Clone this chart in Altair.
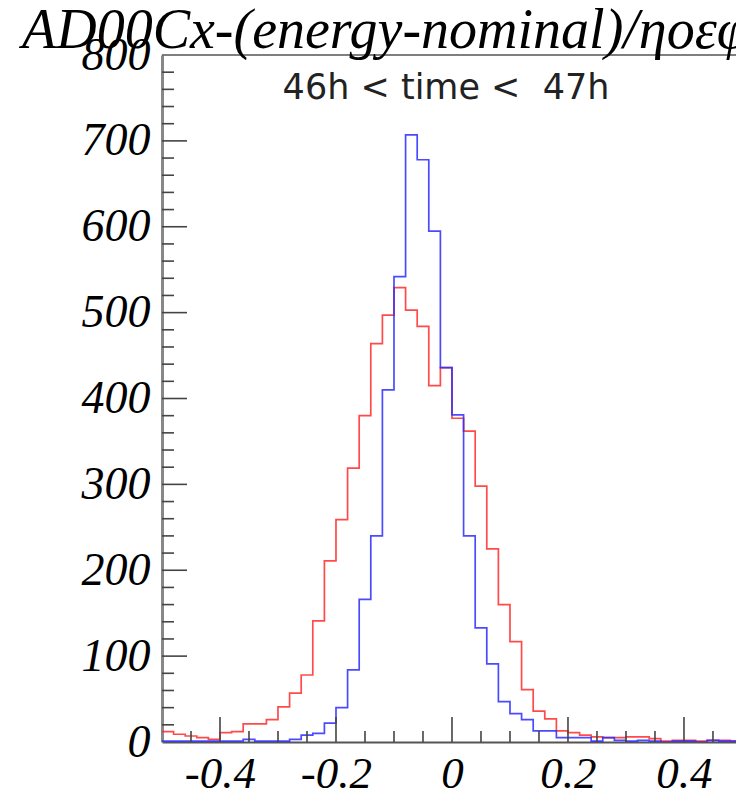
import altair as alt
import pandas as pd

# Histogram binning: 50 bins of width 0.02 over [-0.5, 0.5]
bin_start = -0.5
bin_width = 0.02
n_bins = 50

# Bin contents for the two channels
red_counts = [12, 9, 7, 5, 3, 11, 12, 21, 21, 26,
              41, 57, 78, 141, 211, 259, 319, 380, 464, 497,
              529, 503, 484, 415, 436, 377, 362, 298, 225, 160,
              117, 61, 36, 27, 13, 11, 8, 6, 5, 5,
              6, 6, 4, 1, 2, 2, 1, 2, 2, 1]
blue_counts = [1, 1, 1, 1, 1, 1, 1, 3, 1, 1,
               1, 3, 8, 10, 22, 40, 84, 166, 240, 410,
               542, 707, 678, 595, 436, 381, 240, 133, 91, 47,
               33, 26, 13, 13, 5, 5, 5, 1, 5, 2,
               1, 2, 1, 0, 1, 1, 0, 2, 1, 1]

# Axis ticks
x_major = [-0.4, -0.2, 0.0, 0.2, 0.4]
x_minor = [-0.45, -0.35, -0.3, -0.25, -0.15, -0.1, -0.05,
           0.05, 0.1, 0.15, 0.25, 0.3, 0.35, 0.45]
y_labels = [0, 100, 200, 300, 400, 500, 600, 700, 800]
y_major = [100, 200, 300, 400, 500, 600, 700]
y_minor = [20, 40, 60, 80, 120, 140, 160, 180, 220, 240, 260, 280,
           320, 340, 360, 380, 420, 440, 460, 480, 520, 540, 560, 580,
           620, 640, 660, 680, 720, 740, 760, 780]

title_text = "AD00Cx-(energy-nominal)/ηοεφ"
label_text = "46h < time <\u00a0 47h"

edges = [round(bin_start + bin_width * i, 4) for i in range(n_bins + 1)]

rows = []
for name, counts in (("red", red_counts), ("blue", blue_counts)):
    for i, c in enumerate(counts):
        rows.append({"x": edges[i], "count": c, "series": name})
    rows.append({"x": edges[-1], "count": counts[-1], "series": name})
hist = pd.DataFrame(rows)

W, H = 574, 687
xscale = alt.Scale(domain=[-0.5, 0.4897], nice=False, zero=False)
yscale = alt.Scale(domain=[0, 800], nice=False)

serif = "Liberation Serif"

x_axis = alt.Axis(
    values=x_major, tickSize=0, grid=False, title=None,
    labelExpr="datum.value == 0 ? '0' : (datum.value < 0 ? '-' + format(-datum.value, '.1f') : format(datum.value, '.1f'))",
    labelFont=serif, labelFontStyle="italic", labelFontSize=45,
    labelColor="#000", labelPadding=9, labelBaseline="top",
    labelFlush=False, domainColor="#555", domainWidth=2)
y_axis = alt.Axis(
    values=y_labels, tickSize=0, grid=False, title=None,
    labelFont=serif, labelFontStyle="italic", labelFontSize=46,
    labelColor="#000", labelPadding=12, labelBaseline="middle",
    labelFlush=False, domainColor="#888", domainWidth=3)

lines = alt.Chart(hist).mark_line(
    interpolate="step-after", strokeWidth=1.7, clip=True, strokeOpacity=0.85
).encode(
    x=alt.X("x:Q", scale=xscale, axis=x_axis),
    y=alt.Y("count:Q", scale=yscale, axis=y_axis),
    color=alt.Color("series:N", legend=None,
                    scale=alt.Scale(domain=["red", "blue"], range=["#ff2a2a", "#2a2aff"])),
    detail="series:N",
)

def xticks(values, length):
    return alt.Chart(pd.DataFrame({"v": values})).mark_rule(
        color="#444", strokeWidth=1.6
    ).encode(
        x=alt.X("v:Q", scale=xscale, axis=x_axis),
        y=alt.value(H), y2=alt.value(H - length),
    )

def yticks(values, length):
    return alt.Chart(pd.DataFrame({"v": values})).mark_rule(
        color="#444", strokeWidth=1.6
    ).encode(
        y=alt.Y("v:Q", scale=yscale, axis=y_axis),
        x=alt.value(0), x2=alt.value(length),
    )

frame_top = alt.Chart(pd.DataFrame({"a": [0]})).mark_rule(
    color="#555", strokeWidth=1.5
).encode(x=alt.value(0), x2=alt.value(W), y=alt.value(0))

time_label = alt.Chart(pd.DataFrame({"t": [label_text]})).mark_text(
    font="DejaVu Sans", fontSize=35, color="#222", align="center", baseline="middle"
).encode(text="t:N", x=alt.value(284), y=alt.value(33))

title = alt.Chart(pd.DataFrame({"t": [title_text]})).mark_text(
    font=serif, fontStyle="italic", fontSize=56, color="#000",
    align="left", baseline="alphabetic"
).encode(text="t:N", x=alt.value(-140), y=alt.value(-7))

chart = alt.layer(
    lines,
    xticks(x_minor, 11), xticks(x_major, 25),
    yticks(y_minor, 12), yticks(y_major, 25),
    frame_top, time_label, title,
).properties(
    width=W, height=H,
    autosize=alt.AutoSizeParams(type="none"),
    padding={"left": 162, "top": 55, "right": 0, "bottom": 53},
    background="white",
).configure_view(stroke=None)

chart.save("out.html", embed_options={"renderer": "svg", "actions": False})
